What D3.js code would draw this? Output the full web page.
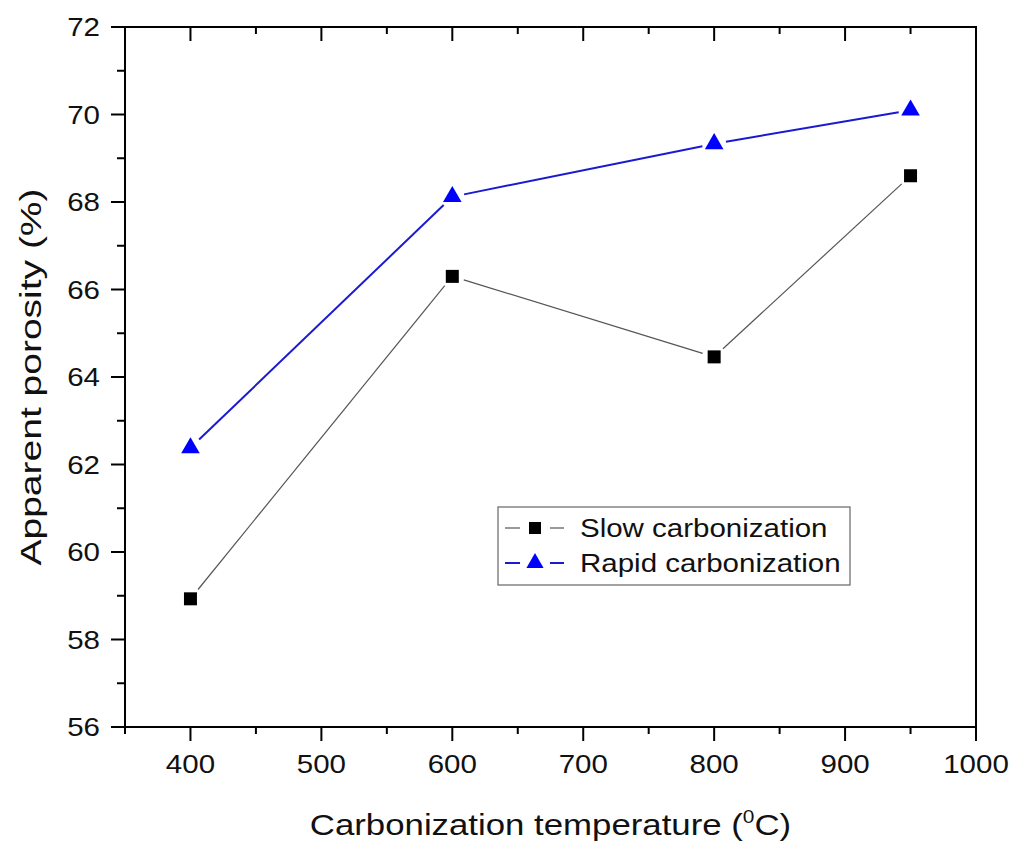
<!DOCTYPE html>
<html>
<head>
<meta charset="utf-8">
<script src="https://cdn.jsdelivr.net/npm/d3@7"></script>
<style>
  body { margin: 0; background: #fff; }
  text { font-family: "Liberation Sans", Arial, sans-serif; fill: #111; }
</style>
</head>
<body>
<div id="chart"></div>
<script>
const temps = [400, 600, 800, 950];
const slow = [58.93, 66.3, 64.46, 68.6];
const rapid = [62.38, 68.12, 69.33, 70.1];
const seriesNames = ["Slow carbonization", "Rapid carbonization"];
const xTicks = [400, 500, 600, 700, 800, 900, 1000];
const yTicks = [56, 58, 60, 62, 64, 66, 68, 70, 72];

const W = 1009, H = 842;
const margin = {left: 125, right: 33, top: 27, bottom: 115};
const stretch = 1.18; // the original font is drawn a bit wide

const svg = d3.select("#chart").append("svg")
  .attr("width", W)
  .attr("height", H);

const x = d3.scaleLinear().domain([350, 1000]).range([margin.left, W - margin.right]);
const y = d3.scaleLinear().domain([56, 72]).range([H - margin.bottom, margin.top]);

const minorX = d3.range(350, 1001, 50);
const minorY = d3.range(56, 72.1, 1);

// frame
svg.append("rect")
  .attr("x", x(350)).attr("y", y(72))
  .attr("width", x(1000) - x(350)).attr("height", y(56) - y(72))
  .attr("fill", "none").attr("stroke", "#000").attr("stroke-width", 2);

// bottom axis
const xAxis = svg.append("g").attr("transform", `translate(0,${y(56)})`);
xAxis.selectAll("line").data(minorX).enter().append("line")
  .attr("x1", d => x(d)).attr("x2", d => x(d))
  .attr("y1", 0).attr("y2", d => d % 100 === 0 ? 14 : 7)
  .attr("stroke", "#000").attr("stroke-width", 2);
xAxis.selectAll("text").data(xTicks).enter().append("text")
  .attr("transform", d => `translate(${x(d)},46) scale(${stretch},1)`)
  .attr("text-anchor", "middle")
  .style("font-size", "25px")
  .text(d => d);

// top axis ticks, inward
svg.append("g").selectAll("line").data(minorX.filter(d => d > 350 && d < 1000)).enter().append("line")
  .attr("x1", d => x(d)).attr("x2", d => x(d))
  .attr("y1", y(72)).attr("y2", d => y(72) + (d % 100 === 0 ? 14 : 7))
  .attr("stroke", "#000").attr("stroke-width", 2);

// left axis
const yAxis = svg.append("g").attr("transform", `translate(${x(350)},0)`);
yAxis.selectAll("line").data(minorY).enter().append("line")
  .attr("y1", d => y(d)).attr("y2", d => y(d))
  .attr("x1", d => d % 2 === 0 ? -14 : -8).attr("x2", 0)
  .attr("stroke", "#000").attr("stroke-width", 2);
yAxis.selectAll("text").data(yTicks).enter().append("text")
  .attr("transform", d => `translate(-25,${y(d)}) scale(${stretch},1)`)
  .attr("dy", "0.36em")
  .attr("text-anchor", "end")
  .style("font-size", "25px")
  .text(d => d);

// axis titles
svg.append("text")
  .attr("transform", `translate(${(x(350) + x(1000)) / 2},835) scale(1.16,1)`)
  .attr("text-anchor", "middle")
  .style("font-size", "30px")
  .html('Carbonization temperature (<tspan dy="-12" font-size="18px">0</tspan><tspan dy="12">C)</tspan>');

svg.append("text")
  .attr("transform", `translate(41,${(y(56) + y(72)) / 2}) rotate(-90) scale(1.3,1)`)
  .attr("text-anchor", "middle")
  .style("font-size", "30px")
  .text("Apparent porosity (%)");

// series lines with small gaps at the markers (Origin style)
function gappedSegments(vals, gap) {
  const pts = temps.map((t, i) => [x(t), y(vals[i])]);
  const segs = [];
  for (let i = 0; i < pts.length - 1; i++) {
    const [x0, y0] = pts[i], [x1, y1] = pts[i + 1];
    const len = Math.hypot(x1 - x0, y1 - y0);
    const ux = (x1 - x0) / len, uy = (y1 - y0) / len;
    segs.push([x0 + ux * gap, y0 + uy * gap, x1 - ux * gap, y1 - uy * gap]);
  }
  return segs;
}

const series = [
  {name: seriesNames[0], vals: slow, line: "#555", width: 1.2, fill: "#000", shape: d3.symbolSquare, size: 169},
  {name: seriesNames[1], vals: rapid, line: "#1a1ad0", width: 2, fill: "#0000ff", shape: d3.symbolTriangle, size: 150}
];

series.forEach(s => {
  svg.append("g").selectAll("line").data(gappedSegments(s.vals, 12)).enter().append("line")
    .attr("x1", d => d[0]).attr("y1", d => d[1])
    .attr("x2", d => d[2]).attr("y2", d => d[3])
    .attr("stroke", s.line).attr("stroke-width", s.width);
  svg.append("g").selectAll("path").data(temps).enter().append("path")
    .attr("transform", (d, i) => `translate(${x(d)},${y(s.vals[i])})`)
    .attr("d", d3.symbol().type(s.shape).size(s.size))
    .attr("fill", s.fill);
});

// legend
const lg = svg.append("g").attr("transform", "translate(498,507)");
lg.append("rect")
  .attr("width", 352).attr("height", 78)
  .attr("fill", "#fff").attr("stroke", "#666").attr("stroke-width", 1.2);
series.forEach((s, i) => {
  const row = lg.append("g").attr("transform", `translate(0,${21 + i * 35})`);
  row.append("line").attr("x1", 7).attr("x2", 22).attr("stroke", s.line).attr("stroke-width", s.width);
  row.append("line").attr("x1", 52).attr("x2", 66).attr("stroke", s.line).attr("stroke-width", s.width);
  row.append("path").attr("transform", "translate(37,0)")
    .attr("d", d3.symbol().type(s.shape).size(s.size * 0.85))
    .attr("fill", s.fill);
  row.append("text").attr("transform", `translate(82,0) scale(${stretch},1)`)
    .attr("dy", "0.36em")
    .style("font-size", "25px")
    .text(s.name);
});
</script>
</body>
</html>
